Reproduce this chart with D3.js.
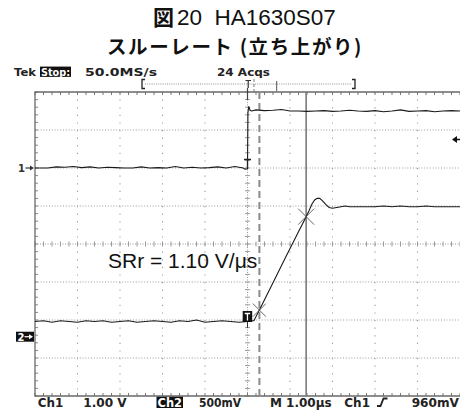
<!DOCTYPE html>
<html><head><meta charset="utf-8">
<script src="https://cdn.jsdelivr.net/npm/d3@7"></script>
<style>
html,body{margin:0;padding:0;background:#fff;}
svg{display:block;}
</style></head>
<body>
<script>
// ---- data ----
const titleLine1Bold = "図";
const titleLine1Rest = "20  HA1630S07";
const titleLine2 = "スルーレート (立ち上がり)";
const srLabel = "SRr = 1.10 V/μs";
// time axis (µs, relative to trigger), 1 µs/div, 10 divisions
const timeDomain = [-5, 5];
const divDomain = [-4, 4];
// channel settings
const ch1VoltsPerDiv = 1.0, ch1OffsetDiv = 2.0;
const ch2VoltsPerDiv = 0.5, ch2OffsetDiv = -2.44;
// Ch1 (input step) samples
const ch1Time = [-5.0,-4.7,-4.5,-4.3,-4.1,-3.9,-3.7,-3.5,-3.3,-3.1,-2.9,-2.7,-2.5,-2.3,-2.1,-1.9,-1.7,-1.5,-1.3,-1.1,-0.9,-0.7,-0.5,-0.3,-0.1,-0.06,0.0,0.01,0.03,0.06,0.1,0.2,0.4,0.6,0.8,1.0,1.2,1.4,1.6,1.8,2.0,2.2,2.4,2.6,2.8,3.0,3.2,3.4,3.6,3.8,4.0,4.2,4.4,4.6,4.8,5.0];
const ch1Volt = [0.0,0.0,0.03,0.02,0.04,0.01,0.03,0.0,0.02,0.01,0.0,0.0,0.03,0.0,0.01,0.0,0.04,0.0,0.02,0.0,0.01,0.03,0.0,0.04,0.0,-0.03,-0.02,1.45,1.62,1.52,1.50,1.53,1.51,1.52,1.54,1.50,1.50,1.49,1.50,1.51,1.49,1.50,1.52,1.50,1.49,1.51,1.48,1.50,1.53,1.49,1.50,1.51,1.48,1.50,1.51,1.50];
// Ch2 (output) samples
const ch2Time = [-5.0,-4.8,-4.6,-4.4,-4.2,-4.0,-3.8,-3.6,-3.4,-3.2,-3.0,-2.8,-2.6,-2.4,-2.2,-2.0,-1.8,-1.6,-1.4,-1.2,-1.0,-0.8,-0.6,-0.4,-0.2,0.0,0.1,0.15,0.28,0.6,0.9,1.2,1.38,1.45,1.52,1.58,1.64,1.70,1.76,1.84,1.92,2.0,2.1,2.2,2.3,2.4,2.6,2.8,3.0,3.2,3.4,3.6,3.8,4.0,4.2,4.4,4.6,4.8,5.0];
const ch2Volt = [0.20,0.21,0.19,0.21,0.20,0.19,0.21,0.20,0.21,0.19,0.20,0.21,0.19,0.20,0.21,0.20,0.19,0.21,0.20,0.22,0.19,0.20,0.21,0.20,0.19,0.20,0.21,0.21,0.35,0.71,1.05,1.38,1.58,1.66,1.75,1.80,1.82,1.82,1.79,1.74,1.70,1.69,1.70,1.71,1.72,1.71,1.71,1.71,1.71,1.72,1.71,1.72,1.71,1.71,1.72,1.71,1.71,1.71,1.71];
// cursors (µs) and cursor crossings on Ch2 (V)
const cursorTime = [0.28, 1.38];
const cursorVolt = [0.35, 1.58];
// readouts
const topLeft = ["Tek", "Stop:", "50.0MS/s"];
const topMid = "24 Acqs";
const bottomLabels = ["Ch1", "1.00 V", "Ch2", "500mV", "M 1.00μs", "Ch1", "960mV"];

// ---- drawing ----
const W = 460, H = 414;
const svg = d3.select("body").append("svg").attr("width", W).attr("height", H);
const x = d3.scaleLinear().domain(timeDomain).range([35, 460]);
const yDiv = d3.scaleLinear().domain(divDomain).range([396, 92]);
const y1 = v => yDiv(v / ch1VoltsPerDiv + ch1OffsetDiv);
const y2 = v => yDiv(v / ch2VoltsPerDiv + ch2OffsetDiv);

const X0 = x(timeDomain[0]), X1 = x(timeDomain[1]);
const Y0 = yDiv(divDomain[1]), Y1 = yDiv(divDomain[0]);
const gridColor = "#9a9a9a";

// Title
svg.append("text").attr("x", 153).attr("y", 25)
  .attr("font-family", "'Noto Sans CJK JP', sans-serif").attr("font-weight", "bold")
  .attr("font-size", 21).attr("fill", "#111").text(titleLine1Bold);
svg.append("text").attr("x", 177).attr("y", 25)
  .attr("font-family", "'Liberation Sans', Arial, sans-serif").attr("font-size", 22.5).attr("fill", "#111")
  .style("white-space", "pre").text(titleLine1Rest);
svg.append("text").attr("x", 107).attr("y", 54)
  .attr("font-family", "'Noto Sans CJK JP', sans-serif").attr("font-weight", "bold")
  .attr("font-size", 19.5).attr("letter-spacing", 1.6).attr("fill", "#111").text(titleLine2);

// Readout helper
function readout(str, xs, xe, yb, opts = {}) {
  const fs = opts.fs || 11;
  if (opts.inverse) {
    svg.append("rect").attr("x", xs - 1).attr("y", yb - fs * 0.85).attr("width", xe - xs + 2)
      .attr("height", fs * 0.98).attr("fill", "#111");
  }
  svg.append("text").attr("x", xs).attr("y", yb)
    .attr("font-family", "'DejaVu Sans', sans-serif").attr("font-weight", "bold")
    .attr("font-size", fs).attr("fill", opts.inverse ? "#fff" : "#222")
    .attr("textLength", xe - xs).attr("lengthAdjust", "spacingAndGlyphs")
    .style("white-space", "pre").text(str);
}
readout(topLeft[0], 14, 36, 75.5, {fs: 10.5});
readout(topLeft[1], 41, 70, 75.5, {fs: 10.5, inverse: true});
readout(topLeft[2], 85, 157, 75.5, {fs: 10.5});
readout(topMid, 217, 270, 75.5, {fs: 10.5});

// Trigger position bar
svg.append("line").attr("x1", 145).attr("x2", 352).attr("y1", 84).attr("y2", 84)
  .attr("stroke", "#777").attr("stroke-width", 0.8).attr("stroke-dasharray", "1,1.2");
svg.append("path").attr("d", "M145,79.5 H142 V88.5 H145").attr("fill", "none").attr("stroke", "#222").attr("stroke-width", 1.3);
svg.append("path").attr("d", "M352,79.5 H355 V88.5 H352").attr("fill", "none").attr("stroke", "#222").attr("stroke-width", 1.3);
svg.append("path").attr("d", "M245.5,80.5 H251 M248.2,80.5 V88").attr("stroke", "#333").attr("stroke-width", 1.2);
svg.append("line").attr("x1", 254).attr("x2", 254).attr("y1", 79).attr("y2", 92)
  .attr("stroke", "#777").attr("stroke-width", 1).attr("stroke-dasharray", "3,2");
svg.append("line").attr("x1", 276.7).attr("x2", 276.7).attr("y1", 81).attr("y2", 91)
  .attr("stroke", "#555").attr("stroke-width", 1);

// Graticule
const g = svg.append("g");
const vDivs = d3.range(timeDomain[0], timeDomain[1] + 1);
const hDivs = d3.range(divDomain[0], divDomain[1] + 1);
g.selectAll(".vg").data(vDivs.filter(d => d !== 0 && d !== timeDomain[0] && d !== timeDomain[1])).join("line")
  .attr("x1", d => x(d)).attr("x2", d => x(d)).attr("y1", Y0).attr("y2", Y1)
  .attr("stroke", gridColor).attr("stroke-width", 1.1).attr("stroke-dasharray", "1.2,6.4");
g.selectAll(".hg").data(hDivs.filter(d => d !== 0 && d !== divDomain[0] && d !== divDomain[1])).join("line")
  .attr("x1", X0).attr("x2", X1).attr("y1", d => yDiv(d)).attr("y2", d => yDiv(d))
  .attr("stroke", gridColor).attr("stroke-width", 1.1).attr("stroke-dasharray", "1,1.8");
g.append("line").attr("x1", X0).attr("x2", X1).attr("y1", yDiv(0)).attr("y2", yDiv(0))
  .attr("stroke", gridColor).attr("stroke-width", 1).attr("stroke-dasharray", "1,1.5");
g.append("line").attr("x1", x(0)).attr("x2", x(0)).attr("y1", Y0).attr("y2", Y1)
  .attr("stroke", gridColor).attr("stroke-width", 1).attr("stroke-dasharray", "1,1.5");
const xMinor = d3.range(timeDomain[0] * 5, timeDomain[1] * 5 + 1).map(d => d / 5);
const yMinor = d3.range(divDomain[0] * 5, divDomain[1] * 5 + 1).map(d => d / 5);
xMinor.forEach(t => {
  const px = x(t);
  g.append("line").attr("x1", px).attr("x2", px).attr("y1", yDiv(0) - 2.5).attr("y2", yDiv(0) + 2.5).attr("stroke", gridColor).attr("stroke-width", 1);
  g.append("line").attr("x1", px).attr("x2", px).attr("y1", Y0).attr("y2", Y0 + 3).attr("stroke", "#777").attr("stroke-width", 1);
  g.append("line").attr("x1", px).attr("x2", px).attr("y1", Y1 - 3).attr("y2", Y1).attr("stroke", "#777").attr("stroke-width", 1);
});
yMinor.forEach(d => {
  const py = yDiv(d);
  g.append("line").attr("x1", x(0) - 2.5).attr("x2", x(0) + 2.5).attr("y1", py).attr("y2", py).attr("stroke", gridColor).attr("stroke-width", 1);
  g.append("line").attr("x1", X0).attr("x2", X0 + 3).attr("y1", py).attr("y2", py).attr("stroke", "#888").attr("stroke-width", 1);
});
g.append("path").attr("d", `M${X1},${Y0} H${X0} V${Y1} H${X1}`).attr("fill", "none").attr("stroke", "#6a6a6a").attr("stroke-width", 1.3);

// Cursors
svg.append("line").attr("x1", x(cursorTime[0])).attr("x2", x(cursorTime[0])).attr("y1", Y0).attr("y2", Y1)
  .attr("stroke", "#8a8a8a").attr("stroke-width", 2).attr("stroke-dasharray", "7,4");
svg.append("line").attr("x1", x(cursorTime[1])).attr("x2", x(cursorTime[1])).attr("y1", Y0).attr("y2", Y1)
  .attr("stroke", "#7a7a7a").attr("stroke-width", 1.6);

// Traces
const line1 = d3.line().x((d, i) => x(ch1Time[i])).y(d => y1(d));
const line2 = d3.line().x((d, i) => x(ch2Time[i])).y(d => y2(d));
svg.append("path").attr("d", line1(ch1Volt)).attr("fill", "none").attr("stroke", "#1a1a1a").attr("stroke-width", 1.1);
svg.append("path").attr("d", line2(ch2Volt)).attr("fill", "none").attr("stroke", "#1a1a1a").attr("stroke-width", 1.1);

// Cursor crossing X marks
cursorTime.forEach((t, i) => {
  const cx = x(t), cy = y2(cursorVolt[i]), r = i === 0 ? 6.5 : 8;
  svg.append("path").attr("d", `M${cx - r},${cy - r} L${cx + r},${cy + r} M${cx - r},${cy + r} L${cx + r},${cy - r}`)
    .attr("stroke", "#555").attr("stroke-width", 0.9);
});

// Trigger markers
svg.append("line").attr("x1", x(0)).attr("x2", x(0)).attr("y1", 88).attr("y2", 100).attr("stroke", "#444").attr("stroke-width", 1.2);
svg.append("path").attr("d", `M${x(0) - 3.5},${y1(0) - 8.5} H${x(0) + 3.5} M${x(0)},${y1(0) - 8.5} V${y1(0)}`)
  .attr("stroke", "#222").attr("stroke-width", 1.3).attr("fill", "none");
const bx = x(0) - 4.8, by = y2(0.2) - 10.5;
svg.append("rect").attr("x", bx).attr("y", by).attr("width", 9.5).attr("height", 11).attr("fill", "#111");
svg.append("path").attr("d", `M${bx + 2},${by + 2.5} H${bx + 7.5} M${bx + 4.75},${by + 2.5} V${by + 9.5}`)
  .attr("stroke", "#fff").attr("stroke-width", 1.3);
svg.append("line").attr("x1", x(0)).attr("x2", x(0)).attr("y1", by + 11).attr("y2", by + 17).attr("stroke", "#333").attr("stroke-width", 1);

// Trigger level arrow (right)
svg.append("path").attr("d", "M452,139.5 L457,136 L457,143 Z").attr("fill", "#111");
svg.append("line").attr("x1", 456).attr("x2", 460).attr("y1", 139.5).attr("y2", 139.5).attr("stroke", "#111").attr("stroke-width", 1.5);

// Channel ground markers
svg.append("text").attr("x", 18).attr("y", y1(0) + 3.8).attr("font-family", "'DejaVu Sans', sans-serif")
  .attr("font-weight", "bold").attr("font-size", 10).attr("fill", "#333").text("1");
svg.append("path").attr("d", `M25.5,${y1(0)} H31`).attr("stroke", "#333").attr("stroke-width", 1.2);
svg.append("path").attr("d", `M34,${y1(0)} L30,${y1(0) - 2.5} L30,${y1(0) + 2.5} Z`).attr("fill", "#333");
svg.append("rect").attr("x", 16).attr("y", y2(0) - 5).attr("width", 18).attr("height", 10).attr("fill", "#111");
svg.append("text").attr("x", 17.5).attr("y", y2(0) + 3.8).attr("font-family", "'DejaVu Sans', sans-serif")
  .attr("font-weight", "bold").attr("font-size", 10).attr("fill", "#fff").text("2");
svg.append("path").attr("d", `M24.5,${y2(0)} H29.5`).attr("stroke", "#fff").attr("stroke-width", 1.2);
svg.append("path").attr("d", `M33,${y2(0)} L29,${y2(0) - 2.5} L29,${y2(0) + 2.5} Z`).attr("fill", "#fff");

// SR label
svg.append("text").attr("x", 108).attr("y", 268)
  .attr("font-family", "'Liberation Sans', Arial, sans-serif").attr("font-size", 21).attr("fill", "#111")
  .text(srLabel);

// Bottom readouts
const by0 = 406.5;
readout(bottomLabels[0], 37.7, 63.3, by0, {fs: 11.5});
readout(bottomLabels[1], 83.3, 126.7, by0, {fs: 11.5});
readout(bottomLabels[2], 157.5, 182, by0, {fs: 11.5, inverse: true});
readout(bottomLabels[3], 199, 241, by0, {fs: 11.5});
readout(bottomLabels[4], 270, 331.7, by0, {fs: 11.5});
readout(bottomLabels[5], 344.3, 370, by0, {fs: 11.5});
svg.append("path").attr("d", "M377,406 H380.5 L383.5,398.5 H387.5").attr("fill", "none").attr("stroke", "#222").attr("stroke-width", 1.8);
readout(bottomLabels[6], 411.7, 459, by0, {fs: 11.5});
</script>
</body></html>
